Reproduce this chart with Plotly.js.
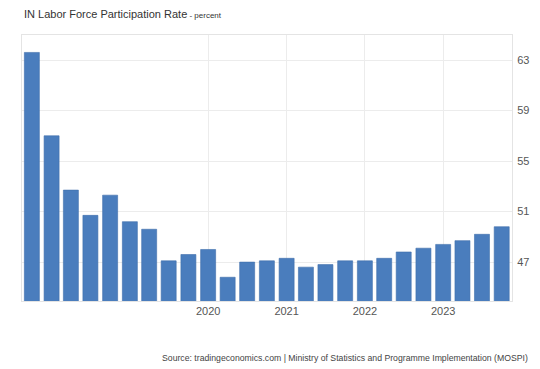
<!DOCTYPE html>
<html><head><meta charset="utf-8">
<script src="https://cdn.plot.ly/plotly-3.0.1.min.js"></script>
<style>html,body{margin:0;padding:0;background:#fff}#chart{width:540px;height:369px}</style>
</head><body><div id="chart"></div>
<script>
var quarters = ["2017-10-01","2018-01-01","2018-04-01","2018-07-01","2018-10-01","2019-01-01","2019-04-01","2019-07-01","2019-10-01","2020-01-01","2020-04-01","2020-07-01","2020-10-01","2021-01-01","2021-04-01","2021-07-01","2021-10-01","2022-01-01","2022-04-01","2022-07-01","2022-10-01","2023-01-01","2023-04-01","2023-07-01","2023-10-01"];
var values = [63.6,57.0,52.7,50.7,52.3,50.2,49.6,47.1,47.6,48.0,45.8,47.0,47.1,47.3,46.6,46.8,47.1,47.1,47.3,47.8,48.1,48.4,48.7,49.2,49.8];
var yTicks = [47,51,55,59,63];
var xTicks = ["2020-01-01","2021-01-01","2022-01-01","2023-01-01"];
var xTickText = ["2020","2021","2022","2023"];

var trace = {
  type: "bar", x: quarters, y: values,
  marker: {color: "#4a7dbd", line: {color: "#3f6fab", width: 0.6}},
  width: 70*24*3600*1000,
  hoverinfo: "x+y"
};
var layout = {
  width: 540, height: 369,
  margin: {l: 22, r: 28, t: 35, b: 68},
  paper_bgcolor: "#fff", plot_bgcolor: "#fff",
  font: {family: "Liberation Sans, Arial, sans-serif", color: "#555", size: 11},
  showlegend: false,
  xaxis: {
    type: "date", range: ["2017-08-16", "2023-11-18"],
    tickvals: xTicks, ticktext: xTickText,
    showgrid: true, gridcolor: "#ececec", gridwidth: 1,
    showline: true, linecolor: "#e4e4e4", mirror: true,
    ticks: "", tickfont: {size: 11, color: "#555"}, zeroline: false
  },
  yaxis: {
    range: [43.92, 64.98], side: "right",
    tickvals: yTicks, showgrid: true, gridcolor: "#ececec",
    showline: true, linecolor: "#e4e4e4", mirror: true,
    ticks: "", tickfont: {size: 11, color: "#555"}, zeroline: false,
    ticklabelstandoff: 2
  },
  annotations: [
    {xref: "paper", yref: "paper", x: -0.0, y: 1, yshift: 21, xanchor: "left", yanchor: "middle",
     showarrow: false, align: "left",
     text: "IN Labor Force Participation Rate<span style=\"font-size:8px\"> - percent</span>",
     font: {size: 11, color: "#333"}},
    {xref: "paper", yref: "paper", x: 1, xshift: 18, y: 0, yshift: -57, xanchor: "right", yanchor: "middle",
     showarrow: false,
     text: "Source: tradingeconomics.com | Ministry of Statistics and Programme Implementation (MOSPI)",
     font: {size: 8.7, color: "#444"}}
  ]
};
Plotly.newPlot("chart", [trace], layout, {displayModeBar: false, staticPlot: true});
</script></body></html>
